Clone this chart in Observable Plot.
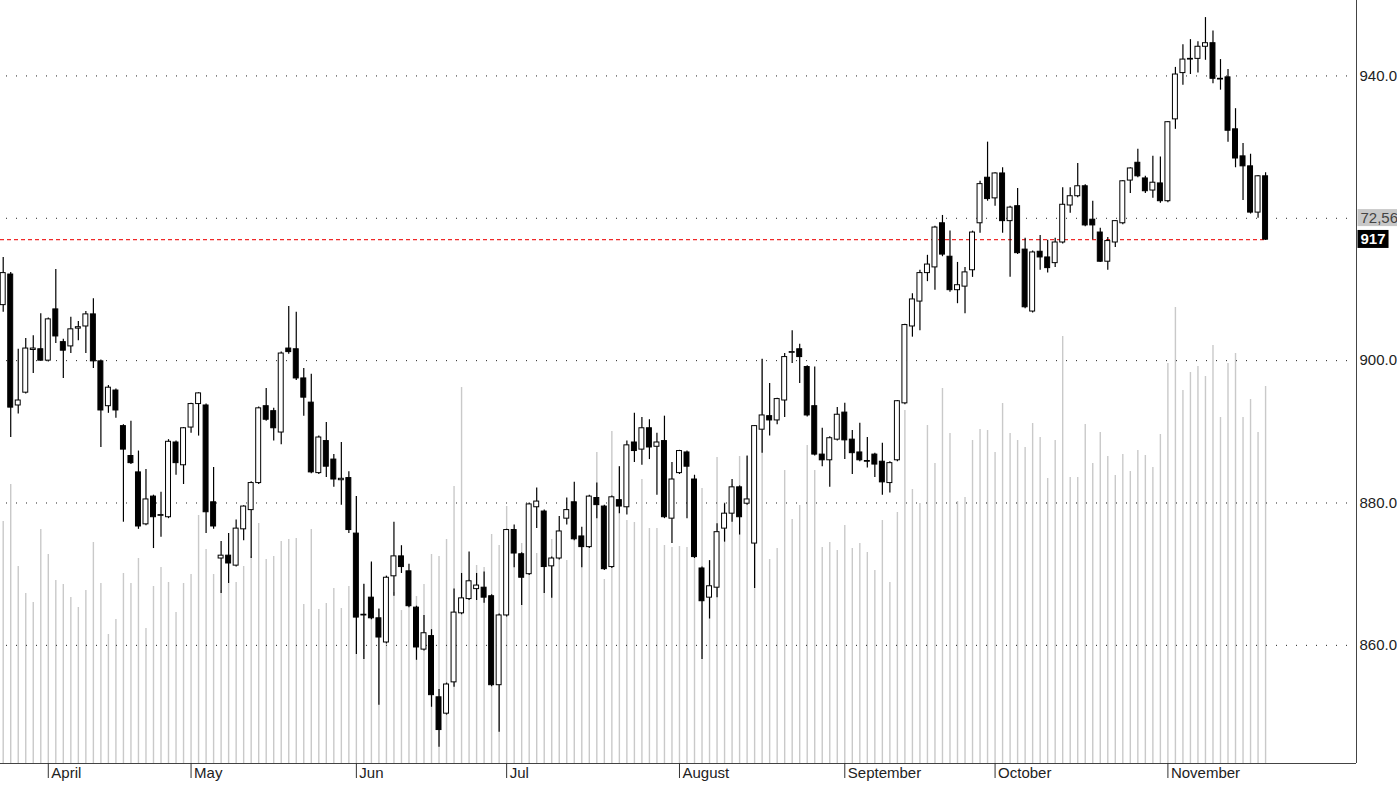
<!DOCTYPE html>
<html><head><meta charset="utf-8">
<script src="https://cdn.jsdelivr.net/npm/d3@7"></script>
<script src="https://cdn.jsdelivr.net/npm/@observablehq/plot@0.6"></script>
<style>
html,body{margin:0;padding:0;background:#fff;}
#chart svg{display:block;}
</style></head>
<body><div id="chart"></div>
<script>
// ---- Data ----
const open = [
907.8,912.1,893.7,895.5,901.5,901.6,900.0,907.2,902.6,902.0,
904.5,904.8,906.5,899.9,893.6,895.8,890.8,886.6,884.3,877.0,
880.9,878.2,878.0,888.5,885.3,890.6,893.9,893.7,880.1,872.2,
872.6,871.2,876.3,879.0,882.8,893.6,892.9,889.9,901.7,901.6,
897.5,894.1,884.2,888.7,886.1,883.2,883.5,875.7,864.3,866.7,
863.8,860.4,869.7,872.5,870.4,865.3,859.4,861.3,852.7,850.4,
854.8,864.5,866.5,867.9,868.1,866.9,854.4,864.2,876.2,872.8,
870.0,879.4,878.8,871.1,872.2,877.8,880.1,875.3,873.8,880.7,
879.5,871.0,880.4,879.4,888.5,887.5,890.5,887.9,888.7,877.8,
884.2,887.1,883.3,870.8,866.7,868.1,876.4,878.5,882.2,879.9,
874.3,890.3,892.2,891.6,894.4,901.1,901.6,899.1,893.6,886.8,
886.0,888.9,892.7,888.9,887.1,885.9,886.8,885.8,882.8,886.0,
894.0,904.8,908.3,912.3,913.1,919.3,914.6,909.9,910.4,912.7,
919.3,925.7,922.8,926.3,919.6,921.7,915.6,906.9,915.3,914.5,
913.7,916.6,921.8,923.1,924.5,919.8,918.0,913.9,916.6,919.3,
925.3,927.8,925.6,923.9,924.9,922.4,933.9,940.4,942.3,942.4,
944.1,944.6,939.6,939.8,932.5,928.7,927.3,920.8,925.9];
const high = [
914.5,912.4,901.6,903.1,903.5,906.6,906.0,912.8,903.0,906.1,
905.5,906.9,908.7,900.1,896.5,896.0,891.0,891.5,887.3,884.7,
881.1,881.5,888.9,888.7,890.6,894.0,895.5,893.9,885.0,874.6,
875.7,877.6,879.6,883.0,893.5,896.1,893.3,901.2,907.6,906.8,
898.9,898.1,889.4,891.3,886.8,888.5,884.4,880.9,868.6,871.7,
865.1,869.7,877.3,874.0,871.4,865.5,864.2,862.2,853.8,854.7,
867.9,870.1,873.1,870.1,870.3,867.1,864.4,876.3,876.9,873.0,
880.0,882.1,879.0,872.4,878.1,880.7,882.9,876.6,881.1,882.8,
879.7,881.0,885.1,888.7,892.6,892.0,891.7,889.8,892.2,885.7,
887.4,887.3,883.9,871.0,871.9,877.1,879.9,883.3,882.4,886.6,
890.9,900.2,896.8,894.7,901.0,904.2,902.3,899.3,899.1,890.5,
889.3,893.4,894.0,890.2,891.2,889.2,887.0,888.4,885.8,894.4,
905.1,909.4,912.7,914.8,918.9,920.4,918.2,913.8,913.1,918.2,
925.2,930.7,926.4,927.1,921.7,924.2,917.2,915.4,917.6,916.9,
917.2,924.3,924.3,927.7,924.7,922.4,918.6,917.3,919.7,925.3,
927.1,929.7,925.9,928.7,928.6,933.6,941.2,944.4,945.1,944.8,
948.2,946.3,942.3,940.9,935.4,930.5,929.0,926.0,926.4];
const low = [
906.8,889.2,892.5,895.3,898.2,899.9,899.8,902.4,897.5,901.0,
902.8,901.0,898.9,887.8,892.6,891.9,877.3,885.4,876.3,876.8,
873.6,875.2,877.8,883.9,882.6,889.8,889.4,875.7,876.3,867.3,
868.7,871.0,874.7,872.2,882.6,891.5,888.7,888.2,900.9,897.2,
892.2,884.1,884.0,883.6,882.2,879.7,875.7,858.7,858.0,863.6,
851.6,860.2,866.9,870.1,865.3,857.9,859.2,851.3,845.7,850.2,
854.1,864.3,866.3,866.3,865.9,854.2,847.8,864.0,870.9,865.6,
869.8,876.4,867.3,866.6,872.0,876.9,874.7,870.9,873.6,877.8,
870.5,870.8,878.5,878.3,885.7,885.3,886.1,881.1,877.8,874.3,
884.0,877.8,872.2,858.0,863.7,866.7,874.5,877.3,875.5,879.7,
868.0,887.0,889.4,891.0,892.0,899.6,896.8,892.1,886.6,885.1,
882.2,888.7,886.1,884.0,885.8,884.9,883.6,881.1,881.4,885.8,
893.8,903.3,904.2,911.1,909.9,914.6,909.6,908.0,906.6,911.7,
917.9,922.4,921.7,917.9,911.7,914.9,907.3,906.7,912.7,912.3,
913.1,916.4,920.7,922.9,918.8,917.0,913.8,912.7,915.9,919.1,
923.5,925.7,923.5,922.8,922.1,922.2,932.5,938.7,940.2,940.4,
942.2,938.9,938.0,930.7,927.1,922.5,920.6,920.0,916.9];
const close = [
912.3,893.4,894.4,901.7,901.7,900.0,905.8,903.4,901.4,904.4,
904.7,906.5,899.9,893.0,896.2,893.0,887.5,885.6,876.7,880.5,
878.0,878.3,888.6,885.6,890.5,893.9,895.4,878.7,876.7,872.6,
871.5,876.4,879.5,882.8,893.3,891.7,890.5,901.0,901.2,897.5,
894.8,884.3,889.2,885.1,883.3,883.4,876.2,863.9,864.2,863.8,
861.1,869.5,872.5,871.0,865.5,859.7,861.7,853.0,848.1,854.5,
864.6,866.6,869.0,868.4,866.7,854.4,864.2,876.2,872.9,869.5,
879.8,880.2,871.0,872.2,876.0,879.0,874.9,873.8,880.9,879.7,
870.7,880.8,879.5,888.1,887.3,890.5,887.8,888.5,878.0,883.3,
887.3,885.1,872.4,866.2,868.3,875.9,878.5,882.2,878.0,880.5,
890.8,892.3,891.6,894.6,900.5,901.2,900.5,892.3,886.8,886.0,
889.1,892.4,888.8,887.0,886.0,885.8,885.4,882.9,885.6,894.3,
905.0,908.6,912.3,913.5,918.7,914.9,909.9,910.6,912.4,918.0,
924.8,922.7,926.3,919.6,921.5,915.1,907.5,915.2,914.5,913.0,
916.6,921.9,923.1,924.5,919.0,919.0,913.9,916.8,919.6,925.2,
927.0,925.9,923.8,925.0,922.4,933.5,940.2,942.3,942.4,944.1,
944.6,939.6,939.5,932.3,928.4,927.3,920.8,925.9,917.0];
// volume (thousands of contracts)
const volume = [
242,279,197,170,161,234,209,183,179,166,
156,173,221,180,129,144,190,180,205,135,
177,196,181,151,180,189,248,214,189,173,
180,181,197,207,240,204,207,222,224,225,
159,234,154,160,175,155,177,267,179,200,
154,188,171,153,188,167,179,209,207,224,
277,376,184,198,196,229,218,257,234,220,
234,210,220,224,208,203,258,223,233,311,
184,332,297,243,241,284,235,235,218,216,
217,216,223,275,203,306,261,279,307,307,
233,404,204,215,293,244,258,318,293,216,
221,213,238,215,220,211,193,243,181,251,
353,274,260,338,300,375,330,262,266,323,
334,333,311,360,330,323,316,340,326,285,
323,427,286,286,339,300,331,307,288,309,
292,313,308,296,329,400,456,373,391,397,
387,418,346,400,410,346,364,331,377];
const monthIndex  = [6, 25, 47, 67, 90, 112, 132, 155];
const monthLabels = ["April","May","Jun","Jul","August","September","October","November"];
const priceTicks  = [860, 880, 900, 940];
const gridLevels  = [860, 880, 900, 920, 940];
const indicatorLevel = 920;
const indicatorLabel = "72,56";

// ---- Build ----
const candles = open.map((o, i) => ({i, open: o, high: high[i], low: low[i], close: close[i], volume: volume[i]}));
const last = candles[candles.length - 1];
const xDomain = [-0.36, 180.1];
const yDomain = [843.4, 950.6];
const volMax = 763; // volume pane spans full plot height
const volToPrice = d3.scaleLinear().domain([0, volMax]).range(yDomain);
const FONT = "Arial, 'Liberation Sans', sans-serif";
const FS = 15;

const chart = Plot.plot({
  width: 1397,
  height: 785,
  marginTop: 0, marginLeft: 0, marginRight: 41, marginBottom: 22,
  x: {domain: xDomain, label: null},
  y: {domain: yDomain, axis: null, label: null},
  style: {fontFamily: FONT, background: "#fff", overflow: "visible"},
  marks: [
    Plot.ruleX(candles, {x: "i", y1: yDomain[0], y2: d => volToPrice(d.volume), stroke: "#c9c9c9", strokeWidth: 1.4}),
    Plot.ruleY(gridLevels, {stroke: "#222", strokeDasharray: "1,9", strokeDashoffset: -6}),
    Plot.ruleY([last.close], {x1: xDomain[0], x2: last.i, stroke: "#f02a2a", strokeWidth: 1.4, strokeDasharray: "4,3"}),
    Plot.ruleX(candles, {x: "i", y1: "low", y2: "high", stroke: "#000", strokeWidth: 1.2}),
    Plot.rect(candles, {x1: d => d.i - 0.33, x2: d => d.i + 0.33, y1: "open", y2: "close",
      fill: d => d.close >= d.open ? "#ffffff" : "#000000", stroke: "#000", strokeWidth: 1}),
    Plot.ruleY([yDomain[0]], {stroke: "#444"}),
    Plot.ruleX([xDomain[1]], {stroke: "#444"}),
    Plot.axisX(monthIndex, {anchor: "bottom", tickSize: 15, tickFormat: () => "", label: null, stroke: "#333"}),
    Plot.text(monthIndex, {x: d => d, text: (d, i) => monthLabels[i], frameAnchor: "bottom", dy: 10, dx: 3,
      textAnchor: "start", lineAnchor: "middle", fontSize: FS, fill: "#222"}),
    Plot.text(priceTicks, {y: d => d, text: d => d.toFixed(1), frameAnchor: "right", dx: 3,
      textAnchor: "start", fontSize: FS, fill: "#222"}),
    Plot.text([indicatorLevel], {y: d => d, text: () => indicatorLabel, frameAnchor: "right", dx: 4,
      textAnchor: "start", fontSize: FS, fill: "#444", className: "ind-box"}),
    Plot.text([last.close], {y: d => d, text: d => d.toFixed(0), frameAnchor: "right", dx: 4,
      textAnchor: "start", fontSize: FS, fontWeight: "bold", fill: "#fff", className: "last-box"})
  ]
});
document.getElementById("chart").appendChild(chart);

// background boxes behind the right-edge value labels
function boxBehind(cls, color, padL, padR, h) {
  d3.select(chart).selectAll("g." + cls + " text").each(function() {
    const b = this.getBBox();
    const cy = b.y + b.height / 2;
    d3.select(this.parentNode).insert("rect", () => this)
      .attr("transform", this.getAttribute("transform"))
      .attr("x", b.x - padL).attr("y", cy - h / 2)
      .attr("width", b.width + padL + padR).attr("height", h)
      .attr("fill", color);
  });
}
boxBehind("ind-box", "#c8c8c8", 3, 10, 17);
boxBehind("last-box", "#000", 3, 3, 18);
</script>
</body></html>
